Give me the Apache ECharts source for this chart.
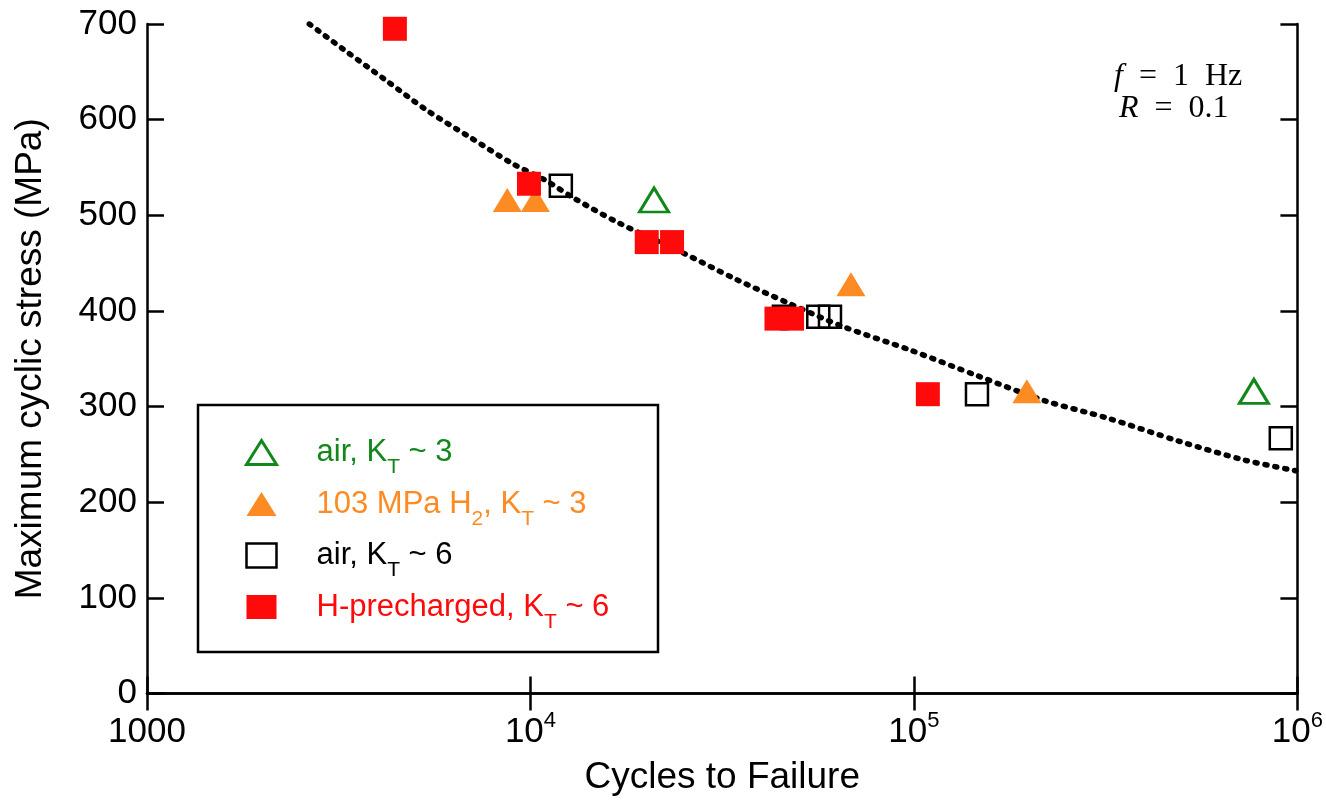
<!DOCTYPE html>
<html>
<head>
<meta charset="utf-8">
<script src="https://cdn.jsdelivr.net/npm/echarts@6/dist/echarts.min.js"></script>
<style>
  html, body { margin: 0; padding: 0; background: #fff; }
  #chart { width: 1326px; height: 801px; }
</style>
</head>
<body>
<div id="chart"></div>
<script>
// series names
var names = ['air, KT ~ 3', '103 MPa H2, KT ~ 3', 'air, KT ~ 6', 'H-precharged, KT ~ 6'];

// [cycles, stress MPa]
var airKT3 = [[21000, 516], [770000, 316]];
var h2KT3 = [[8700, 516], [10300, 516], [68500, 428], [197000, 316]];
var airKT6 = [[12000, 531], [45800, 394], [56300, 394], [60400, 394], [146000, 313], [905000, 267]];
var hKT6 = [[4430, 695], [9910, 533], [20100, 472], [23400, 472], [43800, 392], [48100, 392], [108700, 313]];

// dotted fit curve
var fitCurve = [[2650, 700], [3240, 674], [4170, 642], [5360, 610], [6930, 582], [8980, 554],
    [10900, 537], [13100, 517], [17000, 492], [24900, 461], [34400, 433], [47800, 407],
    [65000, 384], [98000, 359], [147000, 332], [220000, 306], [320000, 288], [490000, 264],
    [730000, 244], [990000, 233]];

var xTicks = [1000, 10000, 100000, 1000000];
var yTicks = [0, 100, 200, 300, 400, 500, 600, 700];

var green = '#12871a', orange = '#fb8b22', red = '#ff0a0a';
var sans = '"Liberation Sans", Arial, sans-serif';
var serif = '"Liberation Serif", serif';

var legendRich = {
    sp: {width: 35},
    g: {color: green, fontSize: 31, lineHeight: 34, fontFamily: sans},
    gs: {color: green, fontSize: 21, lineHeight: 21, padding: [30, 0, 0, 0], fontFamily: sans},
    o: {color: orange, fontSize: 31, lineHeight: 34, fontFamily: sans},
    os: {color: orange, fontSize: 21, lineHeight: 21, padding: [30, 0, 0, 0], fontFamily: sans},
    k: {color: '#000', fontSize: 31, lineHeight: 34, fontFamily: sans},
    ks: {color: '#000', fontSize: 21, lineHeight: 21, padding: [30, 0, 0, 0], fontFamily: sans},
    r: {color: red, fontSize: 31, lineHeight: 34, fontFamily: sans},
    rs: {color: red, fontSize: 21, lineHeight: 21, padding: [30, 0, 0, 0], fontFamily: sans}
};
var legendText = {};
legendText[names[0]] = '{sp| }{g|air, K}{gs|T}{g| ~ 3}';
legendText[names[1]] = '{sp| }{o|103 MPa H}{os|2}{o|, K}{os|T}{o| ~ 3}';
legendText[names[2]] = '{sp| }{k|air, K}{ks|T}{k| ~ 6}';
legendText[names[3]] = '{sp| }{r|H-precharged, K}{rs|T}{r| ~ 6}';

var triPath = 'path://M15,0L30,24L0,24Z';

var axisCommon = {
    axisLine: {show: true, lineStyle: {color: '#000', width: 2.5}},
    axisTick: {show: true, inside: true, length: 17, lineStyle: {color: '#000', width: 2.5}},
    minorTick: {show: false},
    splitLine: {show: false}
};

var option = {
    backgroundColor: '#fff',
    animation: false,
    grid: {left: 147, right: 28, top: 24, bottom: 105},
    xAxis: [
        Object.assign({
            type: 'log', logBase: 10, min: xTicks[0], max: xTicks[xTicks.length - 1],
            position: 'bottom',
            name: 'Cycles to Failure', nameLocation: 'middle', nameGap: 46,
            nameTextStyle: {fontSize: 37, color: '#000', fontFamily: sans},
            axisLabel: {
                margin: 18, color: '#000',
                formatter: function (v) {
                    if (v === 1000) return '{b|1000}';
                    var e = Math.round(Math.log(v) / Math.LN10);
                    return '{b|10}{s|' + e + '}';
                },
                rich: {
                    b: {fontSize: 35, lineHeight: 41, fontFamily: sans, color: '#000'},
                    s: {fontSize: 22, lineHeight: 22, padding: [0, 0, 22, 0], fontFamily: sans, color: '#000'}
                }
            }
        }, axisCommon),
        Object.assign({
            type: 'log', logBase: 10, min: xTicks[0], max: xTicks[xTicks.length - 1],
            position: 'top', axisLabel: {show: false}
        }, axisCommon)
    ],
    yAxis: [
        Object.assign({
            type: 'value', min: yTicks[0], max: yTicks[yTicks.length - 1], interval: 100,
            position: 'left',
            name: 'Maximum cyclic stress (MPa)', nameLocation: 'middle', nameGap: 98,
            nameTextStyle: {fontSize: 37, color: '#000', fontFamily: sans},
            axisLabel: {margin: 10, fontSize: 35, color: '#000', fontFamily: sans}
        }, axisCommon),
        Object.assign({
            type: 'value', min: yTicks[0], max: yTicks[yTicks.length - 1], interval: 100,
            position: 'right', axisLabel: {show: false}
        }, axisCommon)
    ],
    legend: {
        orient: 'vertical',
        left: 245, top: 427,
        padding: 0,
        itemGap: 0.5,
        itemWidth: 30, itemHeight: 24,
        selectedMode: false,
        data: [
            {name: names[0], icon: triPath, itemStyle: {color: 'rgba(0,0,0,0)', borderColor: green, borderWidth: 3, opacity: 1}},
            {name: names[1], icon: triPath, itemStyle: {opacity: 1}},
            {name: names[2], icon: 'rect', itemStyle: {color: 'rgba(0,0,0,0)', borderColor: '#000', borderWidth: 2.5, opacity: 1}},
            {name: names[3], icon: 'rect', itemStyle: {opacity: 1}}
        ],
        formatter: function (n) { return legendText[n]; },
        textStyle: {rich: legendRich}
    },
    graphic: [
        {type: 'rect', z: 3, shape: {x: 198, y: 405, width: 460, height: 247},
            style: {fill: '#fff', stroke: '#000', lineWidth: 2.5}},
        {type: 'text', z: 5, x: 1114, y: 77,
            style: {text: '{i|f}  =  1  Hz', fontSize: 32, fontFamily: serif, fill: '#000',
                verticalAlign: 'middle',
                rich: {i: {fontStyle: 'italic', fontSize: 32, fontFamily: serif}}}},
        {type: 'text', z: 5, x: 1119, y: 109,
            style: {text: '{i|R}  =  0.1', fontSize: 32, fontFamily: serif, fill: '#000',
                verticalAlign: 'middle',
                rich: {i: {fontStyle: 'italic', fontSize: 32, fontFamily: serif}}}}
    ],
    series: [
        {
            type: 'line', data: fitCurve, showSymbol: false, smooth: 0.3, silent: true, z: 1,
            lineStyle: {color: '#000', width: 5.5, type: [2, 8], cap: 'round'}
        },
        {
            name: names[0], type: 'scatter', data: airKT3, symbol: 'triangle', symbolSize: [29, 24], z: 2,
            itemStyle: {color: 'rgba(0,0,0,0)', borderColor: green, borderWidth: 3, opacity: 1}
        },
        {
            name: names[1], type: 'scatter', data: h2KT3, symbol: 'triangle', symbolSize: [29, 24], z: 3,
            itemStyle: {color: orange, opacity: 1}
        },
        {
            name: names[2], type: 'scatter', data: airKT6, symbol: 'rect', symbolSize: 22, z: 4,
            itemStyle: {color: 'rgba(0,0,0,0)', borderColor: '#000', borderWidth: 2.5, opacity: 1}
        },
        {
            name: names[3], type: 'scatter', data: hKT6, symbol: 'rect', symbolSize: 24, z: 5,
            itemStyle: {color: red, opacity: 1}
        }
    ]
};

var myChart = echarts.init(document.getElementById('chart'));
myChart.setOption(option);
</script>
</body>
</html>
